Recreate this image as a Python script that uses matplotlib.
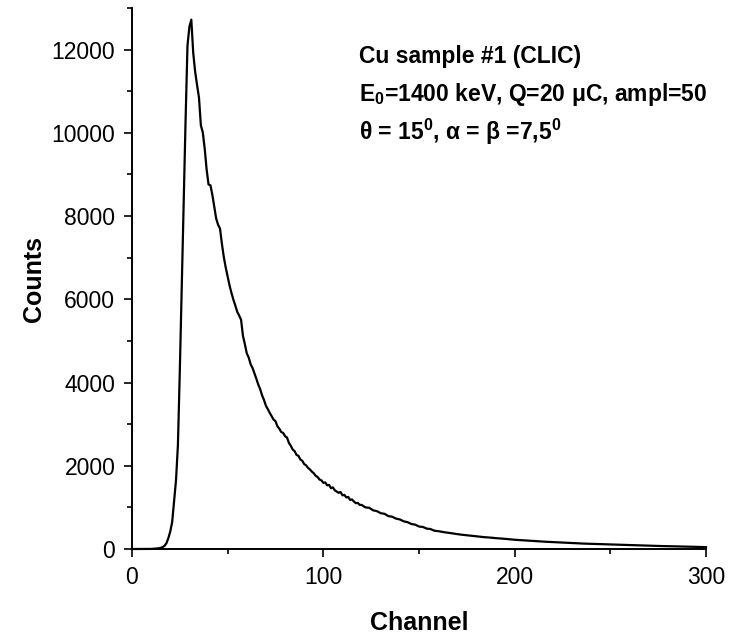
import matplotlib
matplotlib.use("Agg")
import matplotlib.pyplot as plt
from matplotlib.ticker import MultipleLocator

plt.rcParams['font.family'] = ['Liberation Sans', 'DejaVu Sans']
plt.rcParams['mathtext.fontset'] = 'custom'
plt.rcParams['mathtext.rm'] = 'Liberation Sans:bold'
plt.rcParams['mathtext.it'] = 'Liberation Sans:bold'
plt.rcParams['mathtext.bf'] = 'Liberation Sans:bold'

# Spectrum (channel, counts)
channel = [
    0, 1, 2, 3, 4, 5, 6, 7, 8, 9, 10, 11, 12, 13, 14, 15, 16, 17, 18, 19,
    20, 21, 22, 23, 24, 25, 26, 27, 28, 29, 30, 31, 32, 33, 34, 35, 36, 37, 38, 39,
    40, 41, 42, 43, 44, 45, 46, 47, 48, 49, 50, 51, 52, 53, 54, 55, 56, 57, 58, 59,
    60, 61, 62, 63, 64, 65, 66, 67, 68, 69, 70, 71, 72, 73, 74, 75, 76, 77, 78, 79,
    80, 81, 82, 83, 84, 85, 86, 87, 88, 89, 90, 91, 92, 93, 94, 95, 96, 97, 98, 99,
    100, 101, 102, 103, 104, 105, 106, 107, 108, 109, 110, 111, 112, 113, 114, 115,
    116, 117, 118, 119, 120, 122, 124, 126, 128, 130,
    132, 134, 136, 138, 140, 142, 144, 146, 148, 150, 152, 154, 156, 158, 160,
    163, 166, 169, 172, 175, 178, 181, 184, 187, 190, 193, 196, 200, 204, 208, 212, 216, 220,
    224, 228, 232, 236, 240, 244, 248, 252, 256, 260, 264, 268, 272, 276, 280,
    284, 288, 292, 296, 300,
]
counts = [
    0, 0, 0, 0, 0, 0, 0, 0, 0, 1, 2, 4, 8, 12, 18, 28, 45, 75, 140, 260,
    420, 650, 1150, 1650, 2500, 4300, 6300, 8300, 10300, 12100, 12550, 12720, 11920, 11470, 11150, 10850, 10180, 10010, 9620, 9120,
    8760, 8740, 8510, 8230, 7940, 7790, 7700, 7330, 7010, 6760, 6540, 6330, 6150, 5990, 5850, 5700, 5610, 5510, 5120, 4920,
    4700, 4600, 4440, 4350, 4220, 4090, 3950, 3840, 3690, 3580, 3440, 3360, 3270, 3190, 3110, 3070, 2950, 2890, 2810, 2790,
    2710, 2680, 2550, 2480, 2390, 2350, 2260, 2240, 2150, 2120, 2040, 2010, 1950, 1910, 1860, 1820, 1760, 1730, 1670, 1650,
    1590, 1600, 1530, 1540, 1460, 1480, 1410, 1380, 1350, 1370, 1290, 1300, 1240, 1250, 1180, 1190,
    1140, 1100, 1110, 1060, 1060, 1000, 990, 930, 910, 860,
    845, 790, 775, 730, 710, 665, 645, 600, 585, 540, 530, 490, 480, 440, 430,
    405, 385, 365, 345, 330, 315, 300, 285, 275, 262, 252, 240, 222, 210, 196, 188, 175, 166,
    156, 146, 140, 130, 124, 116, 110, 104, 98, 92, 88, 82, 78, 72, 68,
    62, 58, 54, 50, 44,
]

x_major = [0, 100, 200, 300]
y_major = [0, 2000, 4000, 6000, 8000, 10000, 12000]

W, H, DPI = 741, 635, 100
fig = plt.figure(figsize=(W / DPI, H / DPI), dpi=DPI)
ax = fig.add_axes([132 / W, 1 - 549 / H, (706 - 132) / W, (549 - 8) / H])

ax.plot(channel, counts, color='black', lw=1.6, clip_on=False)

ax.set_xlim(0, 300)
ax.set_ylim(0, 13000)
ax.set_xticks(x_major)
ax.set_yticks(y_major)
ax.xaxis.set_minor_locator(MultipleLocator(50))
ax.yaxis.set_minor_locator(MultipleLocator(1000))

for s in ['top', 'right']:
    ax.spines[s].set_visible(False)
for s in ['left', 'bottom']:
    ax.spines[s].set_linewidth(1.4)

ax.tick_params(axis='both', which='major', direction='out', length=6, width=1.2,
               labelsize=16.5, colors='black')
ax.tick_params(axis='both', which='minor', direction='out', length=3.5, width=1.2)
ax.tick_params(axis='x', which='major', pad=6)
ax.tick_params(axis='y', which='major', pad=6)

ax.set_xlabel('Channel', fontsize=18, fontweight='bold', labelpad=16)
ax.set_ylabel('Counts', fontsize=18, fontweight='bold', labelpad=4)

tx = 359 / W
ax.text(tx, 1 - 63 / H, 'Cu sample #1 (CLIC)', transform=fig.transFigure,
        fontsize=16.5, fontweight='bold', ha='left', va='baseline')
ax.text(tx, 1 - 101 / H, r'E$_0$=1400 keV, Q=20 μC, ampl=50', transform=fig.transFigure,
        fontsize=16.5, fontweight='bold', ha='left', va='baseline')
ax.text(tx, 1 - 140 / H, r'θ = 15$^0$, α = β =7,5$^0$', transform=fig.transFigure,
        fontsize=16.5, fontweight='bold', ha='left', va='baseline')

fig.savefig('out.png', dpi=DPI)
